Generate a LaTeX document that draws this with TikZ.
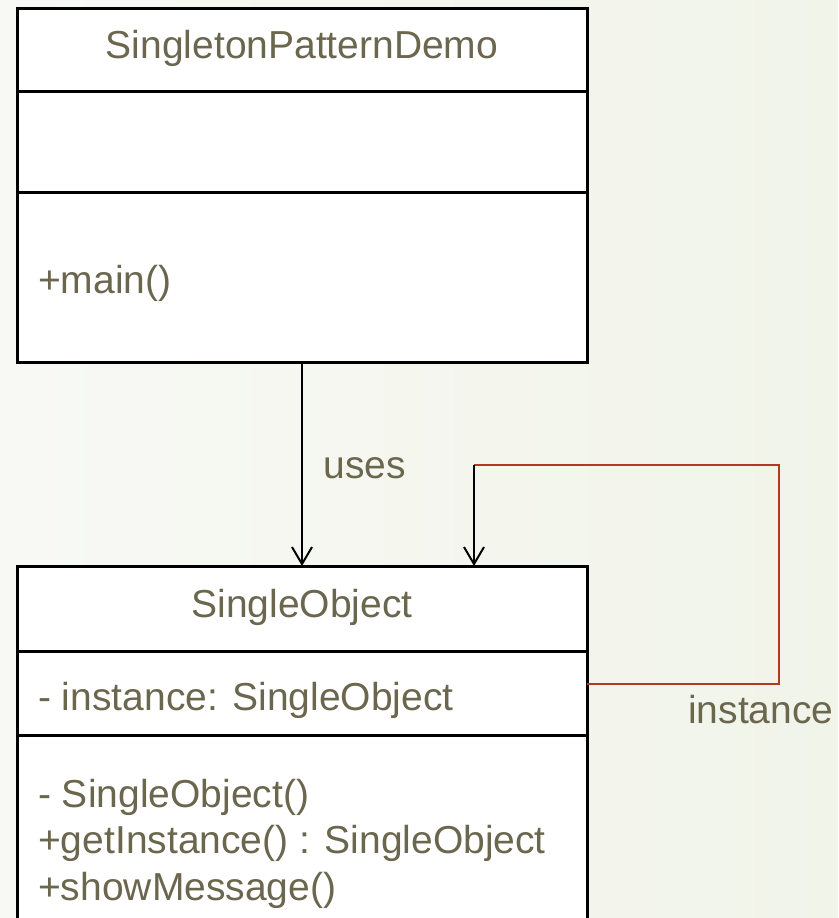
\documentclass[tikz,border=0pt]{standalone}
\usepackage{fontspec}
\setmainfont{Liberation Sans}
\usepackage{tikz}
\usetikzlibrary{arrows.meta,positioning}

\definecolor{umltext}{HTML}{6B664E}
\definecolor{umlred}{HTML}{B03A24}
\definecolor{bgleft}{HTML}{F8F9F5}
\definecolor{bgright}{HTML}{F1F4E9}
\newcommand{\umlfont}{\fontsize{39}{46}\selectfont}

\begin{document}
\begin{tikzpicture}[x=1pt,y=-1pt
	,>={Straight Barb[length=17pt,width=20pt]}
	,every node/.style={font=\umlfont, text=umltext}
	,compartment/.style={draw=black, line width=3pt, fill=white
		,minimum width=570pt, inner sep=0pt, outer sep=0pt
		,text height=18pt, text depth=0pt}
	,member/.style={anchor=base west, inner sep=0pt}
	,link/.style={->, line width=2pt, black}
	,selflink/.style={line width=2pt, umlred}
	]
  % page and background
  \shade[left color=bgleft, middle color=white, right color=bgright]
    (0,0) rectangle (838,918);
  \useasboundingbox (0,0) rectangle (838,918);
  \clip (0,0) rectangle (838,918);

  % class SingletonPatternDemo
  \node[compartment, minimum height=83pt, anchor=north west] (demoname) at (17,8) {SingletonPatternDemo};
  \node[compartment, minimum height=101pt, below=0pt of demoname] (demoattr) {};
  \node[compartment, minimum height=170pt, below=0pt of demoattr] (demoops) {};
  \node[member] (mainop) at (38,293) {+main()};

  % class SingleObject
  \node[compartment, minimum height=85pt, anchor=north west] (objname) at (17,566) {SingleObject};
  \node[compartment, minimum height=84pt, below=0pt of objname] (objattr) {};
  \node[compartment, minimum height=200pt, below=0pt of objattr] (objops) {};
  \node[member] (instattr) at (38,710) {- instance: SingleObject};
  \node[member] (ctorop) at (38,807) {- SingleObject()};
  \node[member] (getop) at (38,853) {+getInstance() : SingleObject};
  \node[member] (showop) at (38,900) {+showMessage()};

  % uses
  \draw[link] (demoops) -- node[pos=0.52, right=17pt] (useslabel) {uses} (objname);

  % self association
  \coordinate (loopbottom) at (779,684);
  \coordinate (looptop) at (779,465);
  \coordinate (loopleft) at (474,465);
  \draw[selflink] (loopbottom -| objattr.east) -- (loopbottom) -- (looptop) -- (loopleft);
  \draw[link] (loopleft) -- (loopleft |- objname.north);
  \node[member] (looplabel) at (688,723) {instance};
\end{tikzpicture}
\end{document}
